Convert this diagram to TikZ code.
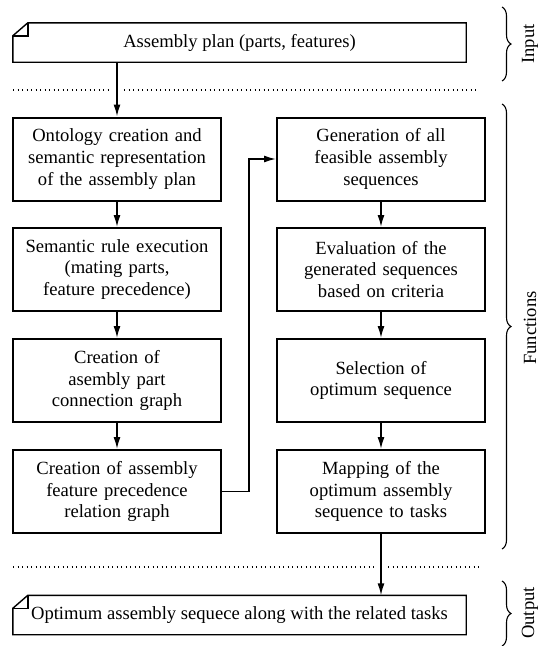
\documentclass[tikz,border=0pt]{standalone}
\usepackage{fontspec}
\setmainfont{Liberation Serif}
\usetikzlibrary{arrows.meta,decorations.pathreplacing,calc}

\begin{document}
\begin{tikzpicture}[x=1pt,y=-1pt,
  txt/.style={font=\fontsize{18.6}{21.8}\selectfont},
  stepbox/.style={txt,draw,line width=2pt,minimum width=208pt,minimum height=83pt,
    text width=206pt,align=center,inner sep=0pt},
  docbox/.style={txt,minimum width=453pt,minimum height=39pt,inner sep=0pt},
  docline/.style={line width=1.4pt},
  flow/.style={line width=1.5pt,-{Latex[length=12pt,width=7pt]}},
  sepline/.style={line width=1.2pt,dash pattern=on 1.2pt off 3.3pt},
  bracket/.style={line width=1.1pt,decorate,decoration={brace,amplitude=9pt}},
  side/.style={txt,rotate=90}]
\useasboundingbox (0,0) rectangle (545,646);

% input and output documents
\node[docbox] (plan) at (239.5,42.5) {Assembly plan (parts, features)};
\node[docbox] (result) at (239.5,615) {Optimum assembly sequece along with the related tasks};
\foreach \d in {plan,result}{
  \draw[docline] (\d.south west) -- (\d.south east) -- (\d.north east)
    -- ($(\d.north west)+(15,0)$) -- ($(\d.north west)+(0,13)$) -- cycle;
  \draw[docline] ($(\d.north west)+(15,0)$) -- ($(\d.north west)+(15,13)$)
    -- ($(\d.north west)+(0,13)$);
}

% left column
\node[stepbox] (a1) at (117,159) {Ontology creation and\\semantic representation\\of the assembly plan};
\node[stepbox] (a2) at (117,269.5) {Semantic rule execution\\(mating parts,\\feature precedence)};
\node[stepbox] (a3) at (117,380.5) {Creation of\\asembly part\\connection graph};
\node[stepbox] (a4) at (117,491.5) {Creation of assembly\\feature precedence\\relation graph};

% right column
\node[stepbox] (b1) at (381,159) {Generation of all\\feasible assembly\\sequences};
\node[stepbox] (b2) at (381,269.5) {Evaluation of the\\generated sequences\\based on criteria};
\node[stepbox] (b3) at (381,380.5) {Selection of\\optimum sequence};
\node[stepbox] (b4) at (381,491.5) {Mapping of the\\optimum assembly\\sequence to tasks};

% separators
\coordinate (s1l) at (13,90);
\coordinate (s1r) at (479,90);
\coordinate (s2l) at (13,567);
\coordinate (s2r) at (479,567);
\draw[sepline] (s1l) -- (111,90);
\draw[sepline] (124,90) -- (s1r);
\draw[sepline] (s2l) -- (374,567);
\draw[sepline] (388,567) -- (s2r);

% flow
\draw[flow] (plan.south -| a1.north) -- (a1.north);
\draw[flow] (a1) -- (a2);
\draw[flow] (a2) -- (a3);
\draw[flow] (a3) -- (a4);
\coordinate (turn) at (249,0);
\draw[flow] (a4.east) -- (a4.east -| turn) -- (b1.west -| turn) -- (b1.west);
\draw[flow] (b1) -- (b2);
\draw[flow] (b2) -- (b3);
\draw[flow] (b3) -- (b4);
\draw[flow] (b4.south) -- (b4.south |- result.north);

% phase brackets
\coordinate (i1) at (502,7);
\coordinate (i2) at (502,81);
\coordinate (f1) at (502,104);
\coordinate (f2) at (502,549);
\coordinate (o1) at (502,581);
\coordinate (o2) at (502,646);
\draw[bracket] (i1) -- (i2);
\draw[bracket] (f1) -- (f2);
\draw[bracket] (o1) -- (o2);
\node[side] (lin) at (530,44) {Input};
\node[side] (lfn) at (530,328) {Functions};
\node[side] (lout) at (530,613) {Output};
\end{tikzpicture}
\end{document}
